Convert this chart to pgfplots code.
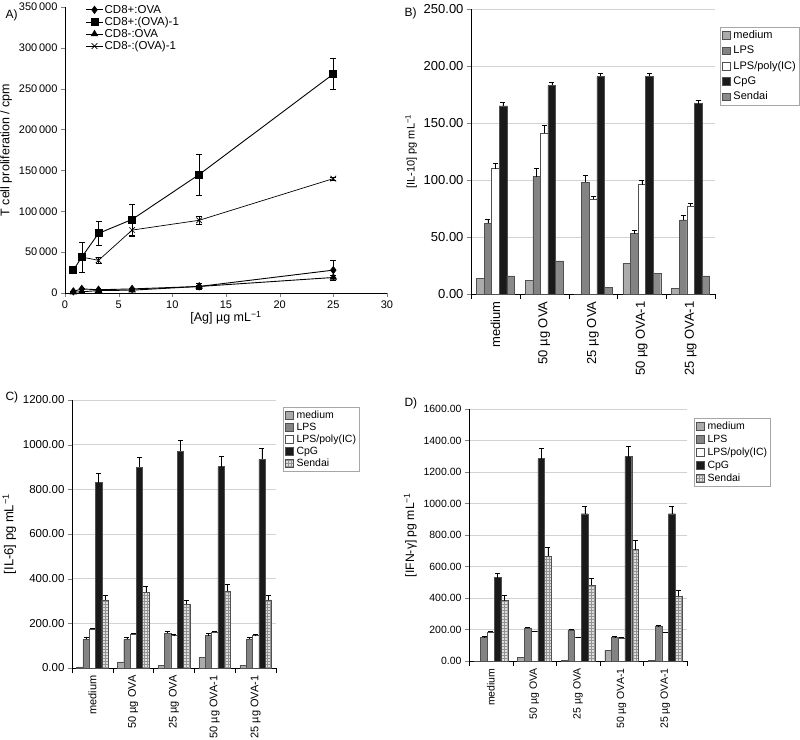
\documentclass[border=0pt]{standalone}
\usepackage{fontspec}
\setmainfont{Liberation Sans}
\usepackage{pgfplots}
\pgfplotsset{compat=1.18}
\usetikzlibrary{patterns}
\definecolor{cmed}{HTML}{ABABAB}
\definecolor{clps}{HTML}{838383}
\definecolor{ccpg}{HTML}{1A1A1A}
\definecolor{csen}{HTML}{8A8A8A}
\definecolor{edge}{HTML}{505050}
\pgfplotsset{
  barpanel/.style={
    scale only axis, ybar=0pt, bar width=0.155,
    axis x line*=bottom, axis y line*=left,
    xmin=-0.5, xmax=4.5, ymin=0,
    xtick={0,1,2,3,4},
    xticklabels={medium,50 µg OVA,25 µg OVA,50 µg OVA-1,25 µg OVA-1},
    xticklabel style={rotate=90, anchor=east},
    major x tick style={draw=none},
    minor xtick={-0.5,0.5,1.5,2.5,3.5,4.5},
    minor x tick style={draw=black},
    minor tick length=5pt, major tick length=4pt,
    tick align=outside,
    ymajorgrids, grid style={gray!35},
    /pgf/number format/assume math mode=true,
    yticklabel style={/pgf/number format/fixed, /pgf/number format/fixed zerofill, /pgf/number format/precision=2, /pgf/number format/1000 sep={}},
    axis line style={black, line width=0.8pt},
    legend image code/.code={\draw[#1] (0.5pt,-3.8pt) rectangle (8pt,3.8pt); \path (10pt,0pt);},
    legend cell align=left,
    legend style={draw=gray!70, anchor=north west, inner sep=2pt, nodes={inner sep=1.5pt}},
    every axis plot/.append style={draw=edge, line width=0.4pt},
    error bars/error bar style={black, line width=0.5pt},
    error bars/error mark options={black, mark size=2.5pt, line width=0.5pt, rotate=90},
  },
  sendaihatch/.style={fill=gray!25, postaction={pattern=grid, pattern color=gray!85}},
}
\begin{document}
\begin{tikzpicture}
\path[use as bounding box] (0pt,0pt) rectangle (800pt,-739pt);
\node[font=\fontsize{12}{14}\selectfont, anchor=west] at (2pt,-15pt) {A)};
\node[font=\fontsize{12}{14}\selectfont, anchor=west] at (401pt,-13pt) {B)};
\node[font=\fontsize{12}{14}\selectfont, anchor=west] at (2pt,-397pt) {C)};
\node[font=\fontsize{12}{14}\selectfont, anchor=west] at (401pt,-403pt) {D)};

% Panel A
\begin{axis}[at={(65pt,-293pt)}, anchor=south west, scale only axis,
  width=322pt, height=286pt,
  xmin=0, xmax=30, ymin=0, ymax=350000,
  xtick={0,5,...,30}, ytick={0,50000,...,350000},
  scaled y ticks=false,
  axis x line*=bottom, axis y line*=left,
  axis line style={black, line width=0.8pt},
  tick align=outside, major tick length=4pt,
  /pgf/number format/assume math mode=true,
  yticklabel style={/pgf/number format/fixed, /pgf/number format/1000 sep={\,}},
  ticklabel style={font=\fontsize{11}{13}\selectfont},
  xlabel={[Ag] µg mL\textsuperscript{−1}},
  ylabel={T cell proliferation / cpm},
  label style={font=\fontsize{12.5}{14}\selectfont},
  xlabel style={yshift=4pt},
  legend cell align=left,
  legend style={draw=none, fill=none, at={(0.06,1.015)}, anchor=north west, font=\fontsize{11.5}{13}\selectfont, row sep=0pt, inner sep=1pt, nodes={inner sep=1.2pt}},
  every axis plot/.append style={black, line width=0.9pt},
  error bars/error bar style={black, line width=0.5pt},
  error bars/error mark options={black, mark size=3pt, line width=0.5pt, rotate=90},
]
\addplot[mark=diamond*, mark size=3.5pt, error bars/.cd, y dir=both, y explicit] coordinates {
 (0.78,2000) +- (0,500) (1.5625,5000) +- (0,1000) (3.125,4000) +- (0,800) (6.25,5000) +- (0,1000) (12.5,8000) +- (0,2000) (25,28000) +- (0,12000)};
\addlegendentry{CD8+:OVA}
\addplot[mark=square*, mark size=3.5pt, error bars/.cd, y dir=both, y explicit] coordinates {
 (0.78,28000) +- (0,2000) (1.5625,44000) +- (0,18000) (3.125,73000) +- (0,15000) (6.25,90000) +- (0,19000) (12.5,145000) +- (0,25000) (25,268000) +- (0,19000)};
\addlegendentry{CD8+:(OVA)-1}
\addplot[mark=triangle*, mark size=3.5pt, error bars/.cd, y dir=both, y explicit] coordinates {
 (0.78,1000) +- (0,400) (1.5625,1500) +- (0,500) (3.125,3000) +- (0,800) (6.25,3500) +- (0,1000) (12.5,8000) +- (0,4000) (25,19000) +- (0,3000)};
\addlegendentry{CD8-:OVA}
\addplot[mark=x, mark size=4pt, line width=0.7pt, error bars/.cd, y dir=both, y explicit] coordinates {
 (1.5625,44000) +- (0,4000) (3.125,40000) +- (0,4000) (6.25,77000) +- (0,8000) (12.5,89000) +- (0,5000) (25,140000) +- (0,2000)};
\addlegendentry{CD8-:(OVA)-1}
\end{axis}

% Panel B
\begin{axis}[barpanel, at={(471pt,-294pt)}, anchor=south west,
  width=244pt, height=285pt, ymax=250, ytick={0,50,...,250},
  ylabel={[IL-10] pg mL\textsuperscript{−1}},
  ylabel style={font=\fontsize{11}{13}\selectfont},
  xticklabel style={font=\fontsize{13}{15}\selectfont},
  yticklabel style={font=\fontsize{13}{15}\selectfont},
  legend style={at={(1.02,0.937)}, font=\fontsize{11}{13}\selectfont, row sep=3pt},
]
\addplot[fill=cmed] coordinates {(0,14) (1,12) (2,0) (3,27) (4,5)};
\addlegendentry{medium}
\addplot[fill=clps, error bars/.cd, y dir=plus, y explicit] coordinates {(0,62) +- (0,4) (1,103) +- (0,7) (2,98) +- (0,6) (3,53) +- (0,3) (4,65) +- (0,4)};
\addlegendentry{LPS}
\addplot[fill=white, error bars/.cd, y dir=plus, y explicit] coordinates {(0,110) +- (0,5) (1,141) +- (0,7) (2,83) +- (0,3) (3,96) +- (0,4) (4,77) +- (0,3)};
\addlegendentry{LPS/poly(IC)}
\addplot[fill=ccpg, error bars/.cd, y dir=plus, y explicit] coordinates {(0,165) +- (0,3) (1,183) +- (0,3) (2,191) +- (0,3) (3,191) +- (0,3) (4,167) +- (0,3)};
\addlegendentry{CpG}
\addplot[fill=csen] coordinates {(0,16) (1,29) (2,6) (3,18) (4,16)};
\addlegendentry{Sendai}
\end{axis}

% Panel C
\begin{axis}[barpanel, at={(72pt,-668pt)}, anchor=south west,
  width=204pt, height=268pt, ymax=1200, ytick={0,200,...,1200},
  ylabel={[IL-6] pg mL\textsuperscript{−1}},
  ylabel style={font=\fontsize{13}{15}\selectfont},
  xticklabel style={font=\fontsize{11}{13}\selectfont},
  yticklabel style={font=\fontsize{11.5}{13}\selectfont},
  legend style={at={(1.034,0.974)}, font=\fontsize{10.5}{12}\selectfont, row sep=0pt},
]
\addplot[fill=cmed] coordinates {(0,5) (1,28) (2,12) (3,47) (4,12)};
\addlegendentry{medium}
\addplot[fill=clps, error bars/.cd, y dir=plus, y explicit] coordinates {(0,128) +- (0,8) (1,128) +- (0,8) (2,155) +- (0,10) (3,145) +- (0,10) (4,130) +- (0,8)};
\addlegendentry{LPS}
\addplot[fill=white, error bars/.cd, y dir=plus, y explicit] coordinates {(0,175) +- (0,5) (1,152) +- (0,4) (2,145) +- (0,4) (3,160) +- (0,4) (4,145) +- (0,4)};
\addlegendentry{LPS/poly(IC)}
\addplot[fill=ccpg, error bars/.cd, y dir=plus, y explicit] coordinates {(0,830) +- (0,40) (1,898) +- (0,45) (2,970) +- (0,48) (3,902) +- (0,45) (4,935) +- (0,48)};
\addlegendentry{CpG}
\addplot[sendaihatch, error bars/.cd, y dir=plus, y explicit] coordinates {(0,305) +- (0,20) (1,340) +- (0,28) (2,285) +- (0,20) (3,345) +- (0,28) (4,305) +- (0,22)};
\addlegendentry{Sendai}
\end{axis}

% Panel D
\begin{axis}[barpanel, at={(469pt,-661pt)}, anchor=south west,
  width=218pt, height=252pt, ymax=1600, ytick={0,200,...,1600},
  ylabel={[IFN-γ] pg mL\textsuperscript{−1}},
  ylabel style={font=\fontsize{12.2}{14}\selectfont},
  xticklabel style={font=\fontsize{10.5}{12}\selectfont},
  yticklabel style={font=\fontsize{10.5}{12}\selectfont},
  legend style={at={(1.032,0.964)}, font=\fontsize{10.5}{12}\selectfont, row sep=1pt},
]
\addplot[fill=cmed] coordinates {(0,0) (1,25) (2,5) (3,68) (4,3)};
\addlegendentry{medium}
\addplot[fill=clps, error bars/.cd, y dir=plus, y explicit] coordinates {(0,150) +- (0,5) (1,210) +- (0,5) (2,197) +- (0,5) (3,150) +- (0,5) (4,220) +- (0,5)};
\addlegendentry{LPS}
\addplot[fill=white, error bars/.cd, y dir=plus, y explicit] coordinates {(0,185) +- (0,4) (1,188) +- (0,4) (2,150) +- (0,4) (3,147) +- (0,4) (4,180) +- (0,4)};
\addlegendentry{LPS/poly(IC)}
\addplot[fill=ccpg, error bars/.cd, y dir=plus, y explicit] coordinates {(0,530) +- (0,30) (1,1285) +- (0,65) (2,935) +- (0,45) (3,1298) +- (0,65) (4,935) +- (0,45)};
\addlegendentry{CpG}
\addplot[sendaihatch, error bars/.cd, y dir=plus, y explicit] coordinates {(0,383) +- (0,35) (1,665) +- (0,60) (2,480) +- (0,45) (3,708) +- (0,60) (4,412) +- (0,35)};
\addlegendentry{Sendai}
\end{axis}
\end{tikzpicture}
\end{document}
